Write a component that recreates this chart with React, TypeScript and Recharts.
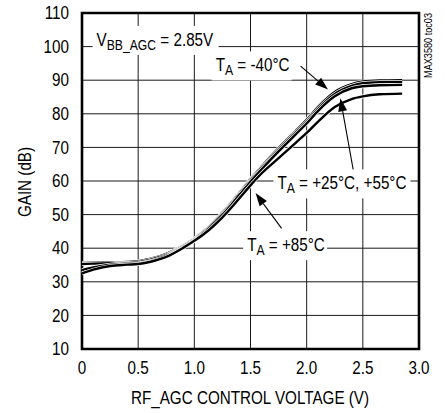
import React from 'react';
import {
  LineChart,
  Line,
  XAxis,
  YAxis,
  CartesianGrid,
  ReferenceArea,
  ReferenceDot,
  ReferenceLine,
  Customized,
} from 'recharts';

// ---- data ----
const voltage = [0, 0.1, 0.25, 0.4, 0.5, 0.6, 0.75, 0.9, 1.0, 1.1, 1.25, 1.4, 1.5, 1.6, 1.75, 1.9, 2.0, 2.1, 2.25, 2.4, 2.5, 2.65, 2.85];
const gainM40 = [35.6, 35.7, 35.8, 35.9, 36.1, 36.8, 38.3, 40.8, 42.9, 45.5, 50.6, 56.5, 60.6, 64.4, 69.8, 74.8, 78.2, 82.0, 86.5, 88.8, 89.6, 89.9, 90.0];
const gainP25 = [35.3, 35.4, 35.5, 35.6, 35.8, 36.5, 38.0, 40.6, 42.7, 45.3, 50.3, 56.2, 60.2, 64.0, 69.3, 74.3, 77.6, 81.4, 85.9, 88.3, 89.1, 89.4, 89.5];
const gainP55 = [33.5, 34.3, 35.1, 35.4, 35.5, 36.1, 37.7, 40.3, 42.4, 45.0, 49.9, 55.8, 59.8, 63.5, 68.8, 73.8, 77.1, 80.8, 85.2, 87.6, 88.2, 88.5, 88.6];
const gainP85 = [32.5, 33.6, 34.7, 35.1, 35.3, 35.9, 37.4, 40.1, 42.2, 44.6, 49.2, 54.8, 58.7, 62.3, 66.8, 71.3, 74.3, 77.6, 82.0, 84.4, 85.2, 85.8, 86.0];

const xTicks = [0, 0.5, 1.0, 1.5, 2.0, 2.5, 3.0];
const yTicks = [10, 20, 30, 40, 50, 60, 70, 80, 90, 100, 110];

const seriesKeys = ['m40', 'p25', 'p55', 'p85'];

const data = voltage.map((v, i) => ({
  v,
  m40: gainM40[i],
  p25: gainP25[i],
  p55: gainP55[i],
  p85: gainP85[i],
}));

// annotation anchors (data coordinates): text left edge / vertical centre
const textNotes = [
  { x: 0.13, y: 102, main: 'V', sub: 'BB_AGC', rest: ' = 2.85V', boxW: 126 },
  { x: 1.19, y: 94.4, main: 'T', sub: 'A', rest: ' = -40°C', boxW: 80 },
  { x: 1.74, y: 59.3, main: 'T', sub: 'A', rest: ' = +25°C, +55°C', boxW: 137 },
  { x: 1.47, y: 40.9, main: 'T', sub: 'A', rest: ' = +85°C', boxW: 84 },
];

// arrows: tail -> tip (data coordinates)
const arrows = [
  { x1: 1.946, y1: 94.2, x2: 2.19, y2: 87.2 },
  { x1: 2.42, y1: 62.3, x2: 2.3, y2: 84.6 },
  { x1: 1.777, y1: 45.9, x2: 1.545, y2: 56.4 },
];

const FONT = '"Liberation Sans", Arial, Helvetica, sans-serif';
const FS = 17.5;
const SUB = 14;
const SX = 0.87; // horizontal condensing of the narrow face

const makeTextShape = (n: any) => (props: any) => {
  const { cx, cy } = props;
  return (
    <g>
      <rect x={cx - 4} y={cy - 14} width={n.boxW} height={29} fill="#fff" />
      <g transform={`translate(${cx}, ${cy + 6}) scale(${SX}, 1)`}>
        <text x={0} y={0} fontSize={FS} fontFamily={FONT} fill="#000" style={{ whiteSpace: 'pre' }}>
          <tspan>{n.main}</tspan>
          <tspan fontSize={SUB} dy={4}>{n.sub}</tspan>
          <tspan dy={-4}>{n.rest}</tspan>
        </text>
      </g>
    </g>
  );
};

const arrowShape = (props: any) => {
  const { x1, y1, x2, y2 } = props;
  const dx = x2 - x1;
  const dy = y2 - y1;
  const len = Math.sqrt(dx * dx + dy * dy) || 1;
  const ux = dx / len;
  const uy = dy / len;
  const hl = 13;
  const hw = 4.5;
  const bx = x2 - ux * hl;
  const by = y2 - uy * hl;
  const px = -uy;
  const py = ux;
  return (
    <g>
      <line x1={x1} y1={y1} x2={bx} y2={by} stroke="#000" strokeWidth={1.1} />
      <polygon
        points={`${x2},${y2} ${bx + px * hw},${by + py * hw} ${bx - px * hw},${by - py * hw}`}
        fill="#000"
      />
    </g>
  );
};

const NarrowText = ({ x, y, anchor, rotate, size, children }: any) => (
  <g transform={`translate(${x}, ${y})${rotate ? ` rotate(${rotate})` : ''} scale(${SX}, 1)`}>
    <text x={0} y={0} fontSize={size} fontFamily={FONT} fill="#000" textAnchor={anchor}>
      {children}
    </text>
  </g>
);

const StaticTexts = () => (
  <g>
    <NarrowText x={31} y={182} anchor="middle" rotate={-90} size={FS}>
      GAIN (dB)
    </NarrowText>
    <NarrowText x={250} y={404} anchor="middle" size={FS}>
      RF_AGC CONTROL VOLTAGE (V)
    </NarrowText>
    <NarrowText x={432} y={13} anchor="end" rotate={-90} size={10.5}>
      MAX3580 toc03
    </NarrowText>
  </g>
);

const XTick = (props: any) => {
  const { x, y, payload } = props;
  const v = payload.value as number;
  const label = v === 0 ? '0' : v.toFixed(1);
  return (
    <g transform={`translate(${x}, ${y}) scale(${SX}, 1)`}>
      <text x={0} y={0} dy="0.71em" fontSize={FS} fontFamily={FONT} fill="#000" textAnchor="middle">
        {label}
      </text>
    </g>
  );
};

const YTick = (props: any) => {
  const { x, y, payload } = props;
  return (
    <g transform={`translate(${x}, ${y}) scale(${SX}, 1)`}>
      <text x={0} y={0} dy="0.355em" fontSize={FS} fontFamily={FONT} fill="#000" textAnchor="end">
        {String(payload.value)}
      </text>
    </g>
  );
};

export default function App() {
  return (
    <div style={{ position: 'absolute', left: 0, top: 0, width: 445, height: 413, background: '#fff' }}>
      <LineChart width={445} height={413} data={data} margin={{ top: 13, right: 26, bottom: 0, left: 0 }}>
        <CartesianGrid stroke="#1a1a1a" strokeWidth={1} />
        <XAxis
          dataKey="v"
          type="number"
          domain={[0, 3]}
          ticks={xTicks}
          interval={0}
          tickLine={false}
          axisLine={false}
          tickSize={0}
          tickMargin={13}
          height={64}
          tick={<XTick />}
        />
        <YAxis
          type="number"
          domain={[10, 110]}
          ticks={yTicks}
          interval={0}
          tickLine={false}
          axisLine={false}
          tickSize={0}
          tickMargin={13}
          width={82}
          tick={<YTick />}
        />
        {seriesKeys.map((k) => [
          <Line
            key={k + 'halo'}
            dataKey={k}
            type="monotone"
            stroke="#fff"
            strokeWidth={3.8}
            dot={false}
            activeDot={false}
            isAnimationActive={false}
          />,
          <Line
            key={k}
            dataKey={k}
            type="monotone"
            stroke="#000"
            strokeWidth={2.4}
            dot={false}
            activeDot={false}
            isAnimationActive={false}
          />,
        ])}
        <ReferenceArea x1={0} x2={3} y1={10} y2={110} fill="none" stroke="#000" strokeWidth={2.6} fillOpacity={0} />
        {textNotes.map((n, i) => (
          <ReferenceDot key={'t' + i} x={n.x} y={n.y} r={0} shape={makeTextShape(n)} />
        ))}
        {arrows.map((a, i) => (
          <ReferenceLine
            key={'a' + i}
            segment={[
              { x: a.x1, y: a.y1 },
              { x: a.x2, y: a.y2 },
            ]}
            shape={arrowShape}
          />
        ))}
        <Customized component={<StaticTexts />} />
      </LineChart>
    </div>
  );
}
